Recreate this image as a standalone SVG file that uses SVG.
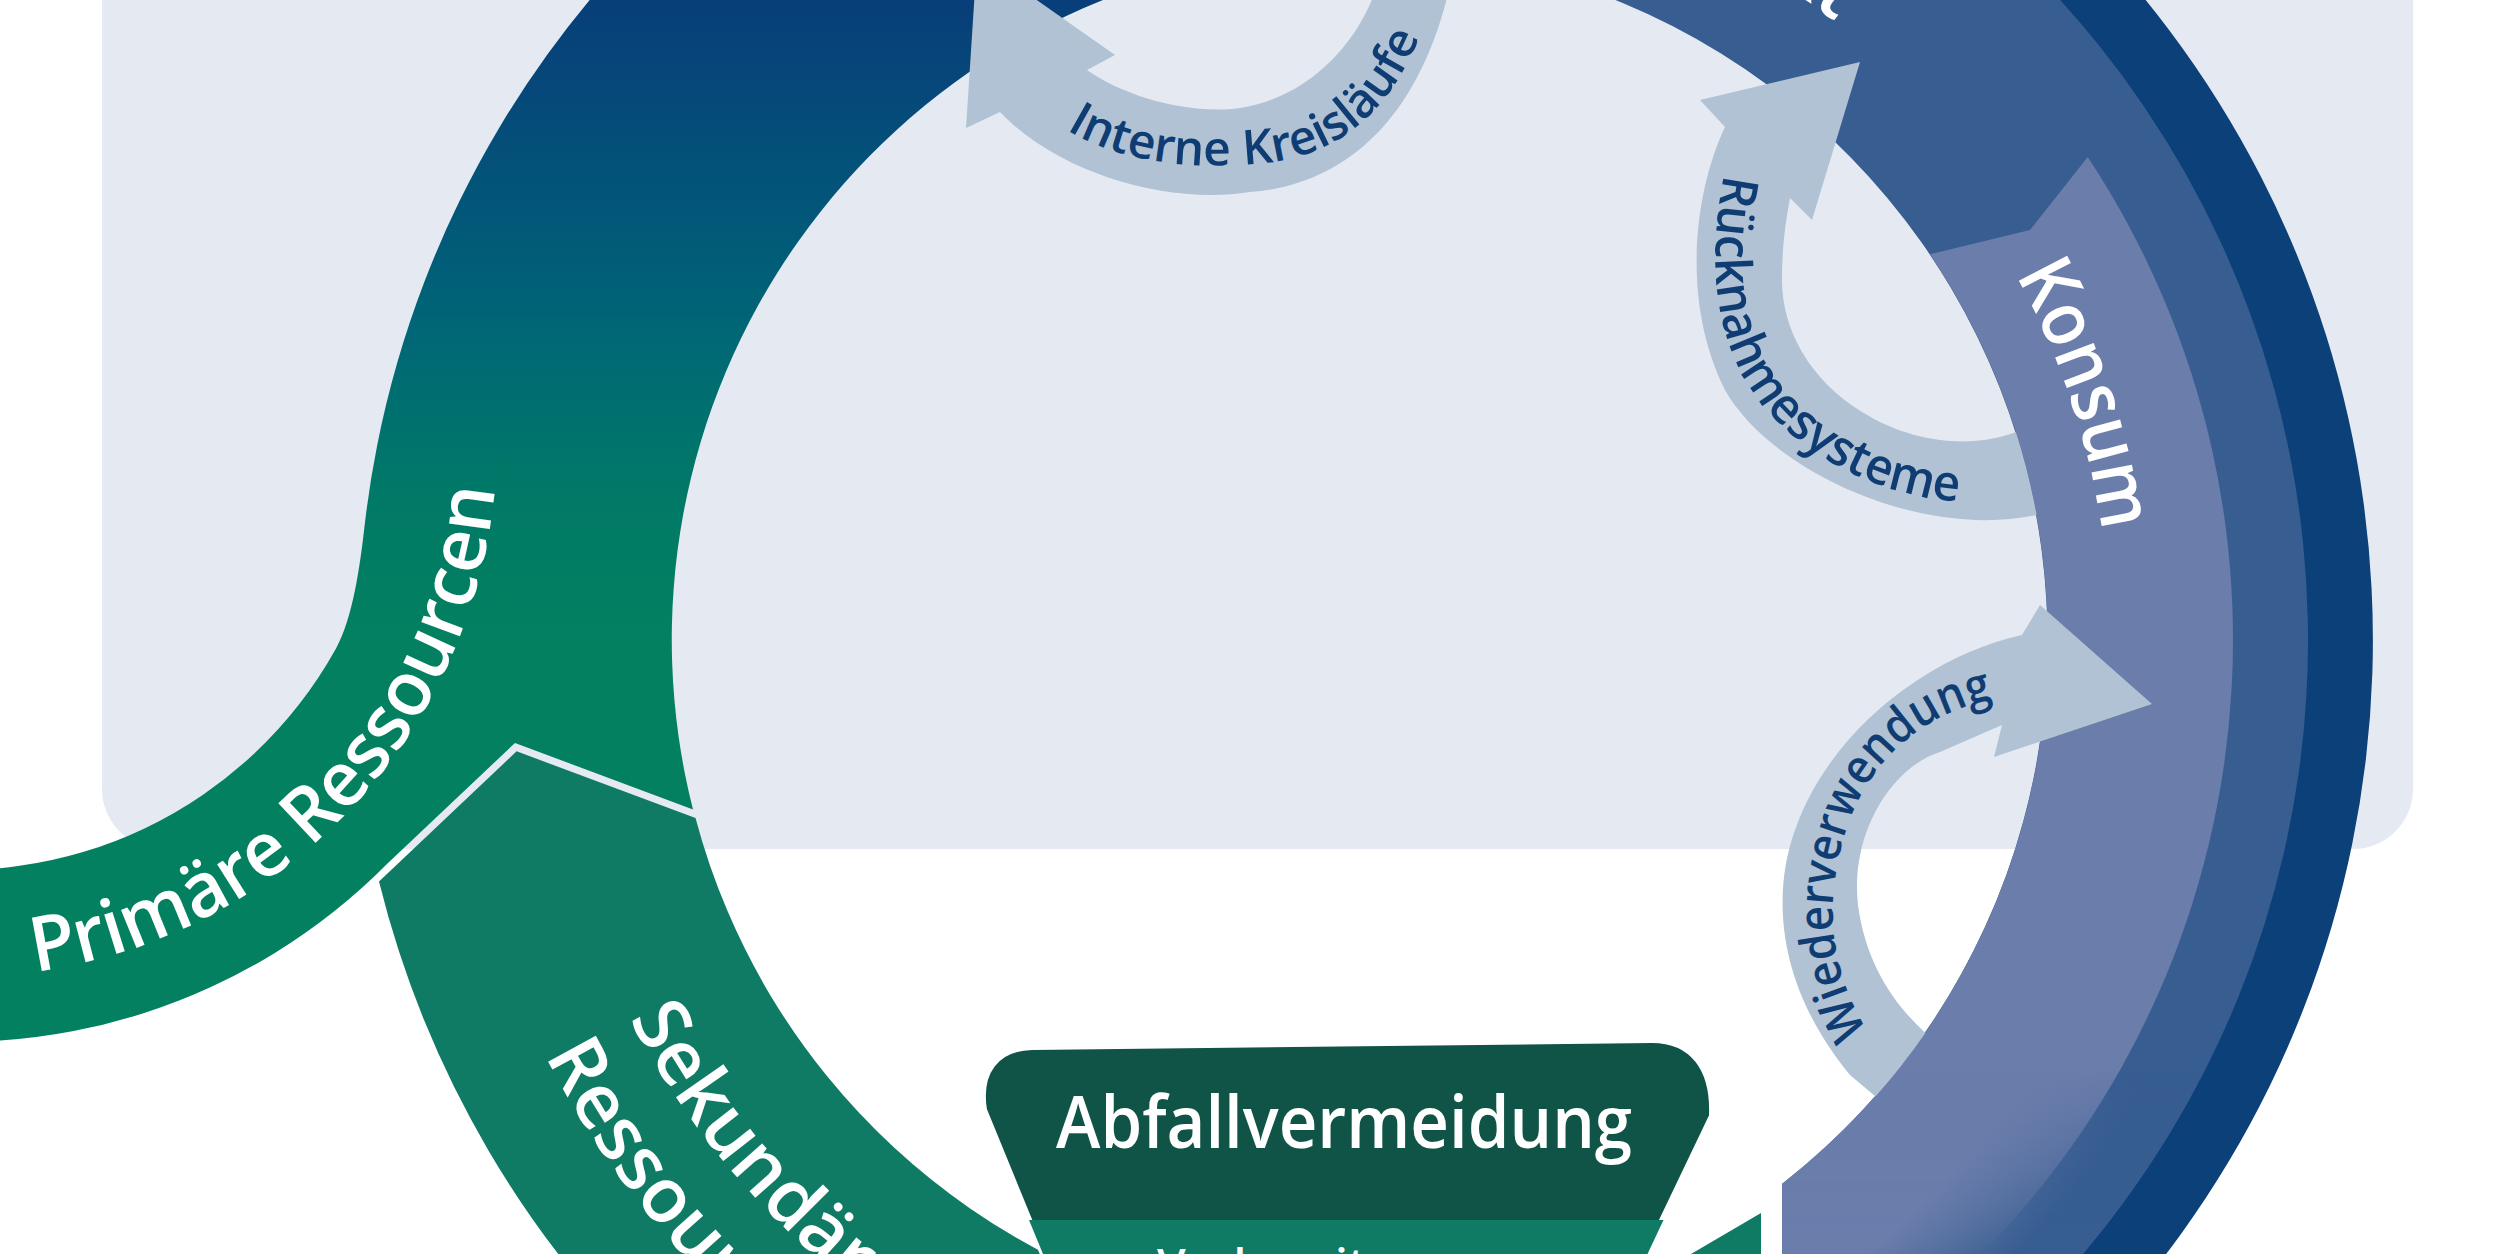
<svg xmlns="http://www.w3.org/2000/svg" width="2508" height="1254" viewBox="0 0 2508 1254">
<defs>
<style>
.lbl{font-family:"Open Sans","Noto Sans","DejaVu Sans",sans-serif;font-weight:600;fill:#ffffff;font-size:76px}
.sm{font-family:"Open Sans","Noto Sans","DejaVu Sans",sans-serif;font-weight:600;fill:#0f3d73;font-size:50px}
.box{font-family:"Open Sans","Noto Sans","DejaVu Sans",sans-serif;font-weight:600;fill:#ffffff}
.light{fill:#b0c2d3}
</style>
<linearGradient id="gLeft" gradientUnits="userSpaceOnUse" x1="0" y1="0" x2="0" y2="640">
<stop offset="0" stop-color="#083e79"/>
<stop offset="0.19" stop-color="#054c79"/>
<stop offset="0.375" stop-color="#015a78"/>
<stop offset="0.56" stop-color="#006a74"/>
<stop offset="0.75" stop-color="#007868"/>
<stop offset="0.94" stop-color="#027f61"/>
<stop offset="1" stop-color="#02805f"/>
</linearGradient>
<radialGradient id="gKonsum" gradientUnits="userSpaceOnUse" cx="1358" cy="640" r="950">
<stop offset="0.84" stop-color="#6a7dab"/>
<stop offset="0.95" stop-color="#375d91"/>
</radialGradient>
<linearGradient id="gFade" gradientUnits="userSpaceOnUse" x1="0" y1="1070" x2="0" y2="1254">
<stop offset="0" stop-color="#000"/>
<stop offset="1" stop-color="#fff"/>
</linearGradient>
<mask id="mFade" maskUnits="userSpaceOnUse" x="0" y="0" width="2508" height="1254">
<rect x="0" y="0" width="2508" height="1254" fill="url(#gFade)"/>
</mask>
<path id="tpPrim" d="M -86.8,975 A 537 537 0 0 0 491.6,515.7 A 880 880 0 0 1 596,200"/>
<path id="tpKonsum" d="M 2002.6,252.7 A 752 752 0 0 1 2098.6,770.6"/>
<path id="tpSek1" d="M 613.9,987 A 821 821 0 0 0 1768.5,1351"/>
<path id="tpSek2" d="M 530.5,1025.8 A 913 913 0 0 0 1814.5,1430.7"/>
<path id="tpProd" d="M 1090.9,-93.9 A 781 781 0 0 1 1835.6,22.1"/>
<path id="tpInt" d="M 1035,105 C 1090,160 1180,170 1250,164 C 1340,160 1405,110 1438,-20"/>
<path id="tpRueck" d="M 1732,140 C 1712,220 1705,300 1740,370 C 1780,450 1880,500 1970,502 L 2060,495"/>
<path id="tpWied" d="M 1905,1080 C 1850,1020 1830,960 1833,900 C 1840,790 1900,720 1990,700 L 2060,690"/>
</defs>

<rect x="0" y="0" width="2508" height="1254" fill="#ffffff"/>
<rect id="panel" x="102" y="-100" width="2311" height="949" rx="60" ry="60" fill="#e5eaf2"/>

<g id="node-produkt">
<path d="M 1269.5,-371.1 A 1015 1015 0 0 1 1865.5,1519 L 1830.5,1458.4 A 945 945 0 0 0 1275.6,-301.4 Z" fill="#0b4079"/>
<path d="M 1275.2,-306.4 A 950 950 0 0 1 1902.9,1418.2 L 1782,1418 L 1782,1184 A 690 690 0 0 0 1297.9,-47.4 Z" fill="#375d91"/>
<text class="lbl"><textPath href="#tpProd" startOffset="100%" text-anchor="end">Produkt</textPath></text>
</g>

<g id="node-primaere">
<path d="M 693,809.5 L 515,743 L 388,863 A 602 602 0 0 1 -144.5,1032.9 L -114.7,863.5 A 430 430 0 0 0 336,648.5 C 353,618 360,565 364.1,530 A 1000 1000 0 0 1 1270.8,-356.2 L 1297.9,-47.4 A 690 690 0 0 0 693,809.5 Z" fill="url(#gLeft)"/>
<text class="lbl"><textPath href="#tpPrim" startOffset="122" textLength="720" lengthAdjust="spacingAndGlyphs">Primäre Ressourcen</textPath></text>
</g>

<g id="node-sekundaere">
<path d="M 516.6,751.3 L 695.5,818 A 690 690 0 0 0 1238.2,1319.5 L 1183,1632.7 A 1008 1008 0 0 1 379,881.6 Z" fill="#107b64"/>
<text class="lbl"><textPath href="#tpSek1" startOffset="35">Sekundäre</textPath></text>
<text class="lbl"><textPath href="#tpSek2" startOffset="33">Ressourcen</textPath></text>
</g>

<g id="node-konsum">
<path d="M 1930,254.2 L 2030,230 L 2087.7,157.1 A 875 875 0 0 1 1920.4,1310.3 L 1782,1310 L 1782,1184 A 690 690 0 0 0 1930,254.2 Z" fill="#6a7dab"/>
<path d="M 2250.7,964.9 A 950 950 0 0 1 1902.9,1418.2 L 1782,1418 L 1782,1184 A 690 690 0 0 0 2006.4,876 Z" fill="url(#gKonsum)" mask="url(#mFade)"/>
<text class="lbl"><textPath href="#tpKonsum" startOffset="26" textLength="272" lengthAdjust="spacingAndGlyphs">Konsum</textPath></text>
</g>

<g id="connectors">
<g id="arrow-ruecknahme">
<path class="light" d="M 1725,127 C 1695,190 1680,300 1725,390 C 1770,470 1920,540 2036.6,515 A 690 690 0 0 0 2015.9,432 C 1980,446 1920,448 1862,412 C 1810,380 1782,330 1782,280 C 1782,245 1786,220 1790,198 L 1812,220 L 1860,62 L 1700,100 Z"/>
<text class="sm"><textPath href="#tpRueck" startOffset="35" textLength="466" lengthAdjust="spacingAndGlyphs">Rücknahmesysteme</textPath></text>
</g>
<g id="arrow-wiederverwendung">
<path class="light" d="M 2022,635 C 1930,655 1830,730 1795,830 C 1770,900 1780,990 1850,1075 L 1875.5,1096.5 A 690 690 0 0 0 1925.4,1032.9 C 1895,1005 1866,965 1858,905 C 1850,835 1890,768 1940,752 L 2002,725 L 1994,757 L 2152,704 L 2040,605 Z"/>
<text class="sm" style="font-size:48px"><textPath href="#tpWied" startOffset="62" textLength="415" lengthAdjust="spacingAndGlyphs">Wiederverwendung</textPath></text>
</g>
<g id="arrow-interne">
<path class="light" d="M 1000,112 C 1060,175 1170,205 1250,192 C 1350,185 1435,110 1458,-60 L 1386,-60 C 1382,15 1325,95 1240,108 C 1190,115 1125,97 1087,70 L 1115,55 L 977,-42 L 966,128 Z"/>
<text class="sm" style="font-size:48px"><textPath href="#tpInt" startOffset="40">Interne Kreisläufe</textPath></text>
</g>
</g>

<g id="node-recycling">
<polygon points="1761,1213 1761,1254 1691,1254" fill="#107b64"/>
</g>

<g id="node-abfall">
<path d="M 984,1110 C 978,1072 996,1048 1032,1047 L 1652,1040 C 1692,1040 1714,1068 1712,1116 L 1646,1254 L 1043,1254 Z" fill="#0f5446" stroke="#ffffff" stroke-width="6"/>
<polygon points="1029,1220 1663.5,1220 1647.5,1254 1043,1254" fill="#107b64"/>
<text class="box" x="1344" y="1148" font-size="72" text-anchor="middle" textLength="576" lengthAdjust="spacingAndGlyphs">Abfallvermeidung</text>
<text class="box" x="1157" y="1281" font-size="46">Vorbereitung zur</text>
</g>
</svg>
